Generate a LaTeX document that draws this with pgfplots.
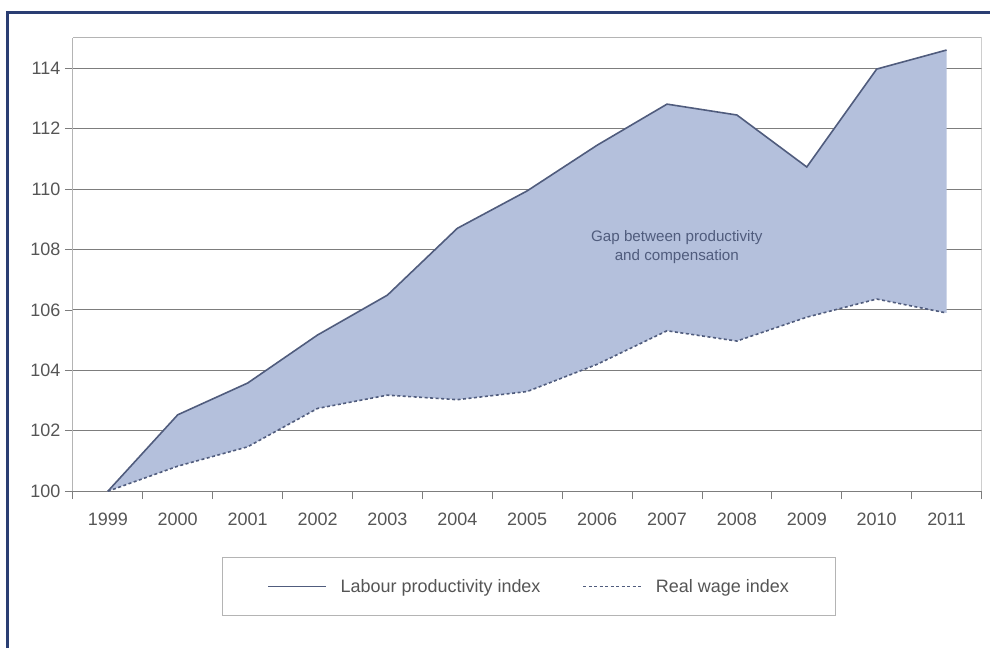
\documentclass[border=0pt]{standalone}
\usepackage{fontspec}
\setmainfont{Liberation Sans}
\usepackage{pgfplots}
\pgfplotsset{compat=1.18}
\usepgfplotslibrary{fillbetween}

\definecolor{gapfill}{RGB}{180,192,220}
\definecolor{lineblue}{RGB}{80,92,125}
\definecolor{framenavy}{RGB}{42,62,115}
\definecolor{gridgray}{RGB}{125,125,125}
\definecolor{boxgray}{RGB}{180,180,180}
\definecolor{labelgray}{RGB}{85,85,85}

\begin{document}
\begin{tikzpicture}
\begin{axis}[
    at={(73pt,157pt)}, anchor=south west,
    width=910pt, height=454pt, scale only axis,
    xmin=-0.5, xmax=12.5,
    ymin=100, ymax=115,
    axis lines=left,
    x axis line style={-, gridgray, line width=1pt},
    y axis line style={-, boxgray, line width=1pt},
    xtick={-0.5,0.5,...,12.5},
    xticklabel=\empty,
    extra x ticks={0,...,12},
    extra x tick labels={1999,2000,2001,2002,2003,2004,2005,2006,2007,2008,2009,2010,2011},
    extra x tick style={major tick length=0pt},
    ytick={100,102,...,114},
    tick align=outside,
    major tick length=8pt,
    tick style={gridgray, line width=0.8pt},
    ymajorgrids,
    major grid style={gridgray, line width=1pt},
    /pgf/number format/assume math mode=true,
    ticklabel style={font=\fontsize{18}{20}\selectfont, text=labelgray},
    yticklabel style={xshift=-1pt},
    xticklabel style={yshift=-18pt},
    legend style={at={(0.502,-0.21)}, anchor=center, draw=boxgray,
        line width=0.8pt, font=\fontsize{18}{20}\selectfont, text=labelgray,
        legend columns=2, inner xsep=45pt, inner ysep=20pt,
        /tikz/every odd column/.append style={column sep=12pt},
        /tikz/every even column/.append style={column sep=40pt}},
    legend image code/.code={\draw[#1] (0pt,0pt) -- (58pt,0pt);},
]
\addplot[name path=lab, lineblue, line width=1.6pt] coordinates {
    (0,100) (1,102.53) (2,103.58) (3,105.17) (4,106.49) (5,108.70) (6,109.94)
    (7,111.45) (8,112.81) (9,112.45) (10,110.73) (11,113.97) (12,114.60)};
\addlegendentry{Labour productivity index}

\addplot[name path=wage, lineblue, line width=1.6pt, dash pattern=on 3pt off 2.5pt] coordinates {
    (0,100) (1,100.83) (2,101.47) (3,102.74) (4,103.18) (5,103.03) (6,103.30)
    (7,104.20) (8,105.31) (9,104.97) (10,105.76) (11,106.36) (12,105.90)};
\addlegendentry{Real wage index}

\addplot[gapfill, draw=none, forget plot] fill between[of=lab and wage];

\draw[boxgray, line width=1pt] (rel axis cs:0,1) -- (rel axis cs:1,1) -- (rel axis cs:1,0);
\node[align=center, font=\fontsize{15.2}{20}\selectfont, text=lineblue]
    at (axis cs:8.14,108.08) {Gap between productivity\\and compensation};
\end{axis}
\draw[framenavy, line width=3pt] (7.5pt,0pt) -- (7.5pt,636.5pt) -- (991pt,636.5pt);
\path (0pt,0pt) rectangle (991pt,649pt);
\end{tikzpicture}
\end{document}
